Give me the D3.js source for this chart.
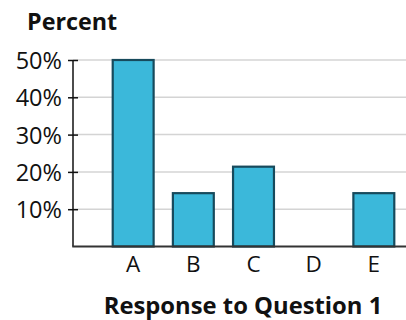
<!DOCTYPE html>
<html><head><meta charset="utf-8">
<script src="https://cdn.jsdelivr.net/npm/d3@7"></script>
<style>body{margin:0;background:#fff}svg{display:block}text{font-family:"Open Sans",sans-serif;fill:#111}</style>
</head><body><svg id="c" width="406" height="320"></svg>
<script>
const categories = ["A","B","C","D","E"];
const values = [50, 14.3, 21.4, 0, 14.3];
const yTicks = [10, 20, 30, 40, 50];
const yTickLabels = ["10%","20%","30%","40%","50%"];

const svg = d3.select("#c");
const x0 = 73, yBase = 246.5, yTop = 60;
const x = d3.scaleBand().domain(categories).range([x0, 434]).paddingInner(0.32).paddingOuter(0.66);
const y = d3.scaleLinear().domain([0, 50]).range([yBase, yTop]);

// gridlines
svg.append("g").selectAll("line").data(yTicks).join("line")
  .attr("x1", x0).attr("x2", 406).attr("y1", d => y(d)).attr("y2", d => y(d))
  .attr("stroke", "#d4d4d4").attr("stroke-width", 1.5);

// bars
const barData = values.map((v,i)=>({c:categories[i], v})).filter(d => d.v > 0);
svg.append("g").selectAll("rect").data(barData)
  .join("rect")
  .attr("x", d => x(d.c)).attr("width", x.bandwidth())
  .attr("y", d => y(d.v)).attr("height", d => yBase - y(d.v))
  .attr("fill", "#3bb8da").attr("stroke", "#174a5c").attr("stroke-width", 2.2);

// y axis
const yAxis = d3.axisLeft(y).tickValues(yTicks).tickFormat((d,i)=>yTickLabels[i]).tickSize(5).tickPadding(7);
const gy = svg.append("g").attr("transform", `translate(${x0},0)`).call(yAxis);
gy.select(".domain").remove();
gy.selectAll(".tick line").attr("x2", 5).attr("x1", -5).attr("stroke", "#111").attr("stroke-width", 1.5);
gy.selectAll(".tick text").attr("font-size", 23.5).attr("font-family", "Open Sans").attr("fill", "#111").attr("dy", "0.36em").attr("x", -11);
svg.append("line").attr("x1", x0).attr("x2", x0).attr("y1", yTop).attr("y2", yBase).attr("stroke", "#111").attr("stroke-width", 1.5);

// x axis
const xAxis = d3.axisBottom(x).tickSize(0).tickPadding(10);
const gx = svg.append("g").attr("transform", `translate(0,${yBase})`).call(xAxis);
gx.select(".domain").remove();
gx.selectAll(".tick text").attr("font-size", 22.5).attr("font-family", "Open Sans").attr("fill", "#111").attr("dy", "0.71em");
svg.append("line").attr("x1", x0 - 0.75).attr("x2", 406).attr("y1", yBase).attr("y2", yBase).attr("stroke", "#333").attr("stroke-width", 2);

// titles
svg.append("text").attr("x", 27).attr("y", 30).attr("font-size", 23.3).attr("font-weight", "bold").text("Percent");
svg.append("text").attr("x", 243).attr("y", 314).attr("text-anchor", "middle").attr("font-size", 23.8).attr("font-weight", "bold").text("Response to Question 1");
</script></body></html>
